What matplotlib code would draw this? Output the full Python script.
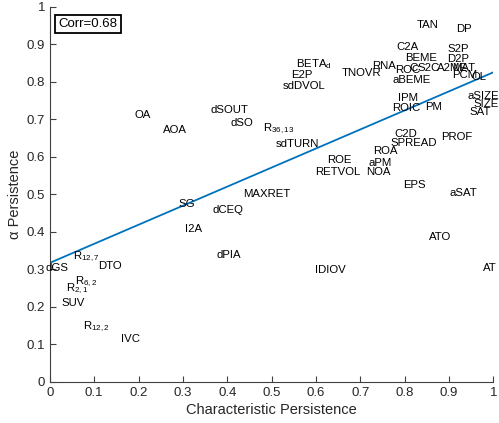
import matplotlib
matplotlib.use("Agg")
import matplotlib.pyplot as plt
import matplotlib.transforms as mtransforms
import numpy as np

plt.rcParams['font.family'] = ['Liberation Sans', 'DejaVu Sans']
plt.rcParams['mathtext.default'] = 'regular'

# characteristic persistence vs alpha persistence
names = ['TAN', 'DP', 'C2A', 'S2P', 'BEME', 'D2P', 'BETA$_d$', 'E2P', 'sdDVOL',
         'TNOVR', 'RNA', 'ROC', 'C', 'S2C', 'A2ME', 'MAT', 'PCM', 'OL', 'aBEME',
         'IPM', 'ROIC', 'PM', 'aSIZE', 'SIZE', 'SAT', 'R$_{36,13}$', 'sdTURN',
         'C2D', 'SPREAD', 'PROF', 'ROA', 'ROE', 'aPM', 'RETVOL', 'NOA', 'EPS',
         'aSAT', 'MAXRET', 'OA', 'AOA', 'dSOUT', 'dSO', 'SG', 'dCEQ', 'I2A',
         'dPIA', 'R$_{12,7}$', 'DTO', 'dGS', 'R$_{6,2}$', 'R$_{2,1}$', 'SUV',
         'R$_{12,2}$', 'IVC', 'ATO', 'IDIOV', 'AT']
char_pers = [0.828, 0.916, 0.782, 0.897, 0.802, 0.895, 0.556, 0.544, 0.526,
             0.657, 0.726, 0.779, 0.811, 0.829, 0.874, 0.908, 0.908, 0.950, 0.772,
             0.786, 0.772, 0.846, 0.942, 0.955, 0.947, 0.480, 0.510,
             0.778, 0.767, 0.883, 0.730, 0.626, 0.718, 0.599, 0.714, 0.797,
             0.901, 0.435, 0.190, 0.256, 0.362, 0.408, 0.290, 0.366, 0.305,
             0.376, 0.051, 0.109, -0.009, 0.057, 0.036, 0.026,
             0.074, 0.160, 0.856, 0.598, 0.976]
alpha_pers = [0.954, 0.943, 0.894, 0.889, 0.865, 0.863, 0.849, 0.821, 0.791,
              0.827, 0.845, 0.834, 0.838, 0.838, 0.838, 0.838, 0.821, 0.814, 0.807,
              0.760, 0.733, 0.735, 0.765, 0.744, 0.723, 0.679, 0.637,
              0.664, 0.640, 0.656, 0.618, 0.594, 0.585, 0.563, 0.563, 0.527,
              0.505, 0.504, 0.714, 0.674, 0.727, 0.692, 0.477, 0.460, 0.409,
              0.341, 0.338, 0.311, 0.305, 0.271, 0.252, 0.213,
              0.151, 0.116, 0.389, 0.301, 0.305]

# least squares line
fit_intercept = 0.317
fit_slope = 0.508
corr = 0.68

fig = plt.figure(figsize=(4.99, 4.23), dpi=100)
ax = fig.add_axes([0.1, 0.0976, 0.8886, 0.8866])

xl = np.array([0, 1])
ax.plot(xl, fit_intercept + fit_slope * xl, color='#0072BD', lw=1.3)

# labels sit left-aligned on the point, centred on the capitals
trans = mtransforms.offset_copy(ax.transData, fig=fig, x=0, y=-2.9, units='points')
for nm, xv, yv in zip(names, char_pers, alpha_pers):
    ax.text(xv, yv, nm, transform=trans, ha='left', va='baseline',
            fontsize=8.2, color='black')

ax.text(0.0196, 0.954, 'Corr=%.2f' % corr, transform=ax.transAxes,
        ha='left', va='center', fontsize=9.5,
        bbox=dict(boxstyle='square,pad=0.25', facecolor='white',
                  edgecolor='black', lw=1.3))

ax.set_xlim(0, 1)
ax.set_ylim(0, 1)
ax.set_xticks(np.arange(0, 1.01, 0.1))
ax.set_yticks(np.arange(0, 1.01, 0.1))
ax.set_xticklabels(['0', '0.1', '0.2', '0.3', '0.4', '0.5', '0.6', '0.7', '0.8', '0.9', '1'])
ax.set_yticklabels(['0', '0.1', '0.2', '0.3', '0.4', '0.5', '0.6', '0.7', '0.8', '0.9', '1'])
ax.tick_params(direction='in', length=4, width=0.8, colors='#404040',
               labelsize=9.5, labelcolor='#262626')
ax.spines['top'].set_visible(False)
ax.spines['right'].set_visible(False)
for s in ['left', 'bottom']:
    ax.spines[s].set_color('#404040')
    ax.spines[s].set_linewidth(0.8)

ax.set_xlabel('Characteristic Persistence', fontsize=10.5, color='#262626', labelpad=3)
ax.set_ylabel('α Persistence', fontsize=10.5, color='#262626', labelpad=3)

fig.savefig('out.png', dpi=100)
